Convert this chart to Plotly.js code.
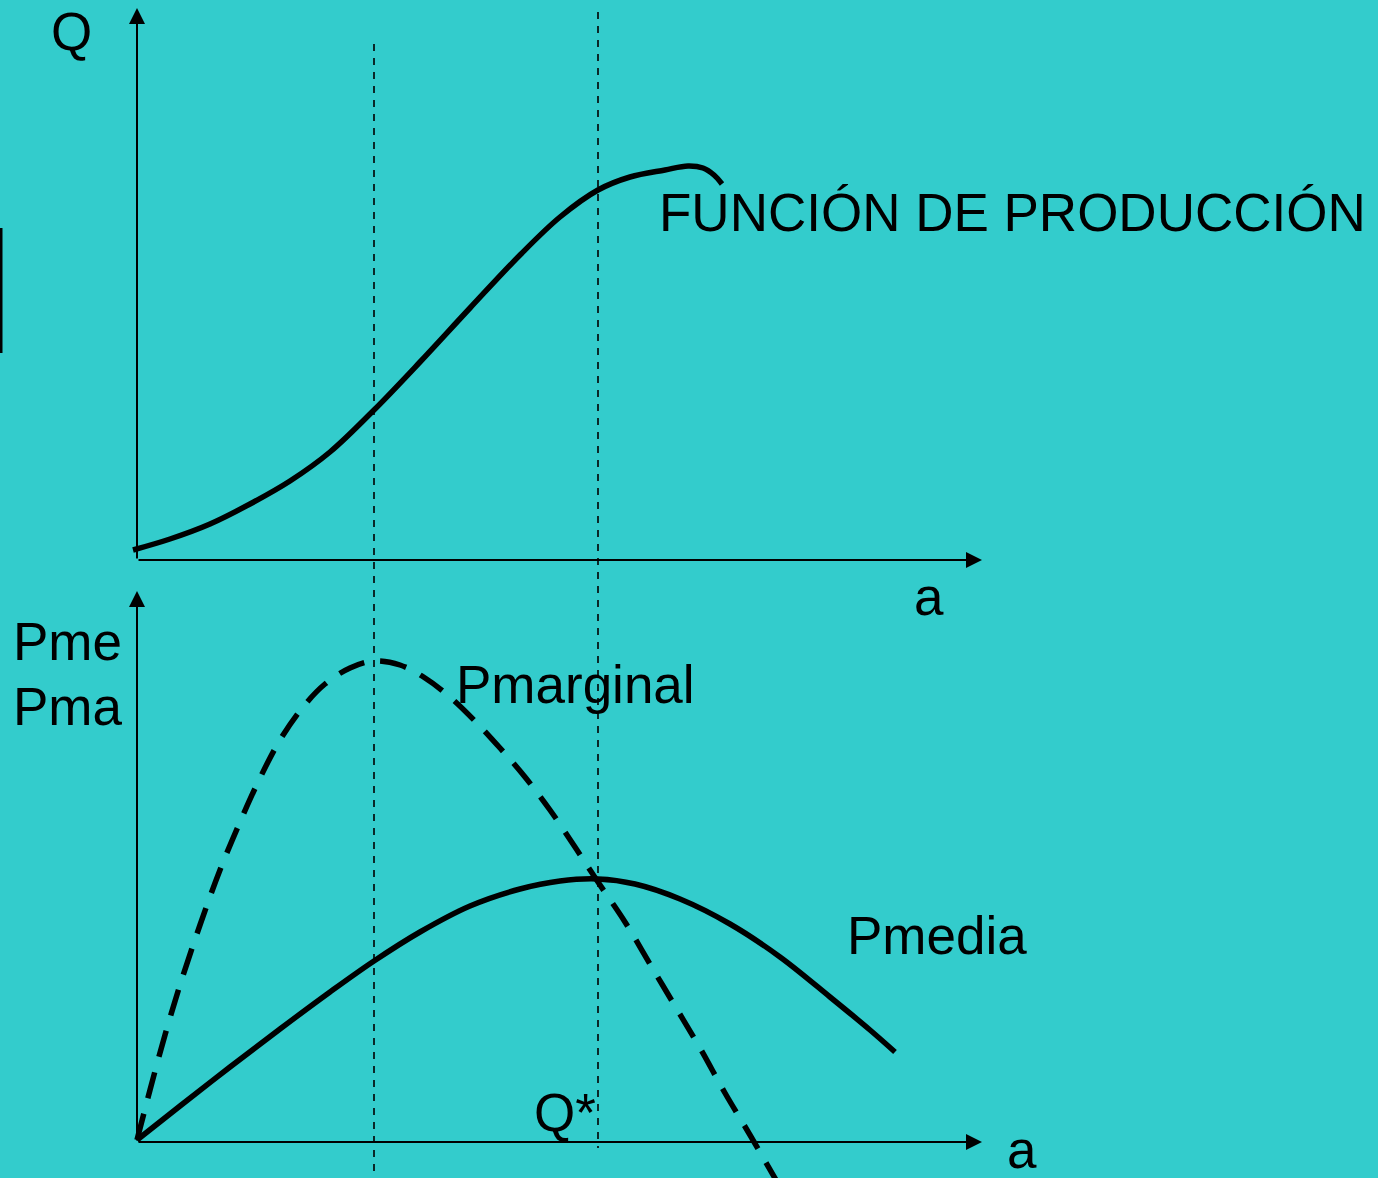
<!DOCTYPE html>
<html>
<head>
<meta charset="utf-8">
<script src="https://cdn.plot.ly/plotly-3.0.1.min.js"></script>
<style>
  html, body { margin: 0; padding: 0; background: #33CCCC; }
  #chart { width: 1378px; height: 1178px; }
</style>
</head>
<body>
<div id="chart"></div>
<script>
// ---- Data (in page pixel units) ----
// Production function (top panel)
const prodA = [133, 170, 210, 250, 290, 330, 374, 420, 470, 520, 560, 598, 630, 665, 688, 703, 714, 722];
const prodQ = [550, 539, 524, 504, 481, 452, 410, 362, 308, 255, 217, 190, 177, 170, 166, 168, 175, 184];

// Marginal product (bottom panel, dashed)
const pmgA = [137, 150, 165, 180, 200, 220, 240, 260, 280, 303, 325, 350, 374, 400, 425, 450, 475, 500, 525, 550, 575, 598, 625, 650, 675, 700, 725, 750, 776];
const pmgP = [1140, 1090, 1035, 985, 925, 870, 822, 778, 740, 707, 684, 668, 661, 665, 678, 697, 721, 748, 777, 810, 847, 882, 922, 964, 1006, 1048, 1093, 1135, 1180];

// Average product (bottom panel, solid)
const pmeA = [137, 180, 230, 280, 330, 374, 420, 470, 520, 560, 598, 635, 680, 730, 780, 830, 870, 895];
const pmeP = [1140, 1106, 1067, 1029, 992, 961, 932, 906, 889, 881, 879, 884, 899, 924, 957, 997, 1030, 1052];

// Text labels
const labelTexts = ["Q", "FUNCIÓN DE PRODUCCIÓN", "a", "Pme", "Pma", "Pmarginal", "Pmedia", "Q*", "a"];

// ---- Geometry of the diagram (page pixels) ----
const W = 1378, H = 1178;
const originX = 137;
const topAxisY = 560, topAxisTop = 8;
const botAxisY = 1142, botAxisTop = 591;
const axisEndX = 982;
const guideA = [374, 598];
const guideTop = [44, 12];
const guideBottom = [1178, 1148];

const labelPos = [
  {x: 49, y: 31},
  {x: 657, y: 212},
  {x: 912, y: 596},
  {x: 11, y: 641},
  {x: 11, y: 706},
  {x: 454, y: 684},
  {x: 845, y: 935},
  {x: 532, y: 1112},
  {x: 1005, y: 1149}
];

const traces = [
  {x: prodA, y: prodQ, mode: 'lines', line: {color: '#000', width: 5.5, shape: 'spline', smoothing: 1}, hoverinfo: 'skip'},
  {x: pmgA, y: pmgP, mode: 'lines', line: {color: '#000', width: 5.5, dash: '27px,16px', shape: 'spline', smoothing: 1}, hoverinfo: 'skip'},
  {x: pmeA, y: pmeP, mode: 'lines', line: {color: '#000', width: 5.5, shape: 'spline', smoothing: 1}, hoverinfo: 'skip'}
];

const shapes = [];
guideA.forEach((gx, i) => {
  shapes.push({type: 'line', xref: 'x', yref: 'y', x0: gx, x1: gx, y0: guideTop[i], y1: guideBottom[i],
    line: {color: '#000', width: 1.6, dash: '7px,7px'}});
});
// stray mark on left edge
shapes.push({type: 'line', xref: 'x', yref: 'y', x0: 1, x1: 1, y0: 228, y1: 353, line: {color: '#000', width: 3}});

const arrowStyle = {text: '', showarrow: true, arrowhead: 2, arrowsize: 1.6, arrowwidth: 2, arrowcolor: '#000',
  xref: 'x', yref: 'y', axref: 'x', ayref: 'y', standoff: 0};
const annotations = [
  Object.assign({}, arrowStyle, {x: originX, y: topAxisTop, ax: originX, ay: topAxisY}),
  Object.assign({}, arrowStyle, {x: axisEndX, y: topAxisY, ax: originX, ay: topAxisY}),
  Object.assign({}, arrowStyle, {x: originX, y: botAxisTop, ax: originX, ay: botAxisY}),
  Object.assign({}, arrowStyle, {x: axisEndX, y: botAxisY, ax: originX, ay: botAxisY})
];
labelTexts.forEach((t, i) => {
  annotations.push({text: t, x: labelPos[i].x, y: labelPos[i].y, xref: 'x', yref: 'y',
    xanchor: 'left', yanchor: 'middle', showarrow: false,
    font: {family: 'Liberation Sans, Arial, sans-serif', size: 53, color: '#000'}});
});

const layout = {
  width: W, height: H,
  margin: {l: 0, r: 0, t: 0, b: 0, pad: 0},
  paper_bgcolor: '#33CCCC', plot_bgcolor: '#33CCCC',
  showlegend: false,
  xaxis: {range: [0, W], visible: false, fixedrange: true},
  yaxis: {range: [H, 0], visible: false, fixedrange: true},
  shapes: shapes,
  annotations: annotations
};

Plotly.newPlot('chart', traces, layout, {staticPlot: true, displayModeBar: false});
</script>
</body>
</html>
